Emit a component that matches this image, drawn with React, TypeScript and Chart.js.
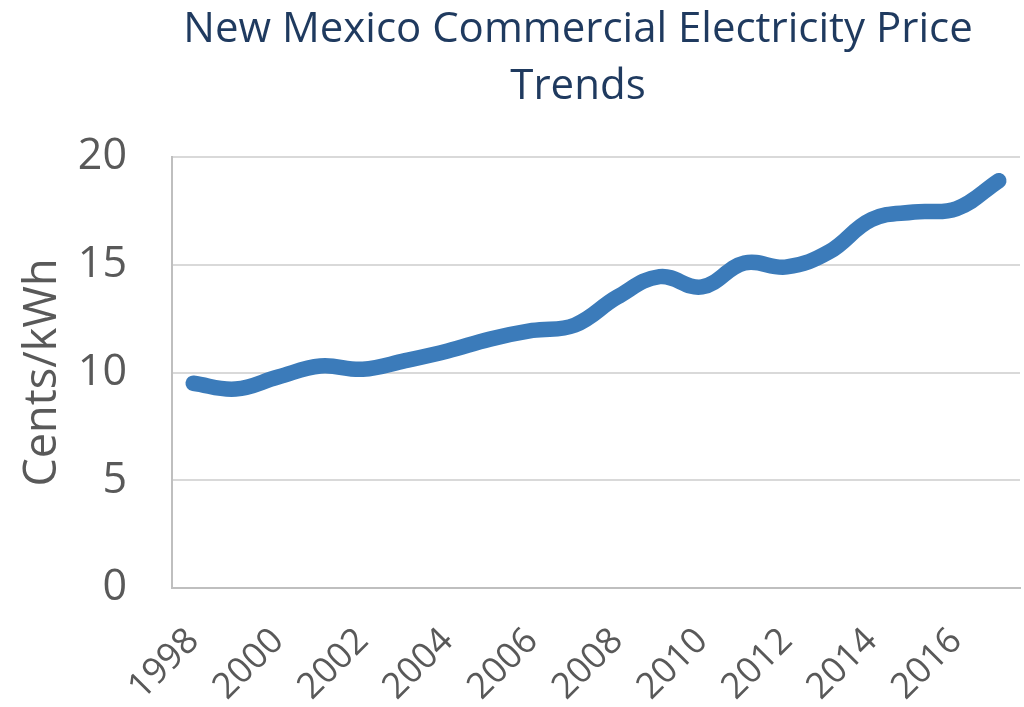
import React, { useEffect, useRef } from "react";
import { Chart, registerables } from "chart.js";

Chart.register(...registerables);

const years = ["1998","1999","2000","2001","2002","2003","2004","2005","2006","2007","2008","2009","2010","2011","2012","2013","2014","2015","2016","2017"];
const prices = [9.5, 9.23, 9.79, 10.3, 10.15, 10.55, 11.0, 11.55, 11.95, 12.2, 13.5, 14.45, 13.97, 15.08, 14.9, 15.6, 17.1, 17.45, 17.6, 18.9];
const yTicks = [0, 5, 10, 15, 20];
const titleLines = ["New Mexico Commercial Electricity Price", "Trends"];

const titlePlugin = {
  id: "customTitle",
  afterDraw(chart: any) {
    const c = chart.ctx;
    c.save();
    c.fillStyle = "#1F3A5F";
    c.font = "42px 'Open Sans'";
    c.textAlign = "center";
    c.textBaseline = "middle";
    titleLines.forEach((t, i) => c.fillText(t, 578, 30 + i * 57));
    c.restore();
  },
};

export default function App() {
  const ref = useRef<HTMLCanvasElement | null>(null);
  useEffect(() => {
    document.body.style.margin = "0";
    const ctx = ref.current!.getContext("2d")!;
    const chart = new Chart(ctx, {
      type: "line",
      data: {
        labels: years,
        datasets: [
          {
            data: prices,
            borderColor: "#3B7BBA",
            borderWidth: 15.5,
            borderCapStyle: "round",
            borderJoinStyle: "round",
            pointRadius: 0,
            tension: 0.4,
            fill: false,
          },
        ],
      },
      plugins: [titlePlugin],
      options: {
        animation: false,
        responsive: false,
        layout: { padding: { left: 0, right: 4, top: 157, bottom: 0 } },
        plugins: {
          legend: { display: false },
          tooltip: { enabled: false },
          title: { display: false },
        },
        scales: {
          x: {
            offset: true,
            grid: { display: false, drawTicks: false },
            border: { display: true, color: "#BFBFBF", width: 2 },
            afterFit: (axis: any) => {
              axis.height = 119;
              axis.paddingLeft = 0;
              axis.paddingRight = 0;
            },
            ticks: {
              autoSkip: false,
              minRotation: 45,
              maxRotation: 45,
              padding: 32,
              color: "#595959",
              font: { family: "'Open Sans'", size: 36 },
              callback: (_v: any, i: number) => (i % 2 === 0 ? years[i] : ""),
            },
          },
          y: {
            min: 0,
            max: 20,
            afterBuildTicks: (axis: any) => {
              axis.ticks = yTicks.map((v) => ({ value: v }));
            },
            afterFit: (axis: any) => {
              axis.width = 172;
              axis.paddingTop = 0;
              axis.paddingBottom = 0;
            },
            grid: { color: "#D9D9D9", lineWidth: 2, drawTicks: false },
            border: { display: true, color: "#BFBFBF", width: 2 },
            ticks: {
              padding: 45,
              color: "#595959",
              font: { family: "'Open Sans'", size: 43 },
            },
            title: {
              display: true,
              text: "Cents/kWh",
              color: "#595959",
              font: { family: "'Open Sans'", size: 45 },
              padding: { top: 16, bottom: 0 },
            },
          },
        },
      },
    });
    return () => chart.destroy();
  }, []);
  return (
    <div style={{ position: "absolute", left: 0, top: 0, width: 1024, height: 707, background: "#fff" }}>
      <canvas ref={ref} width={1024} height={707} style={{ width: 1024, height: 707 }} />
    </div>
  );
}
